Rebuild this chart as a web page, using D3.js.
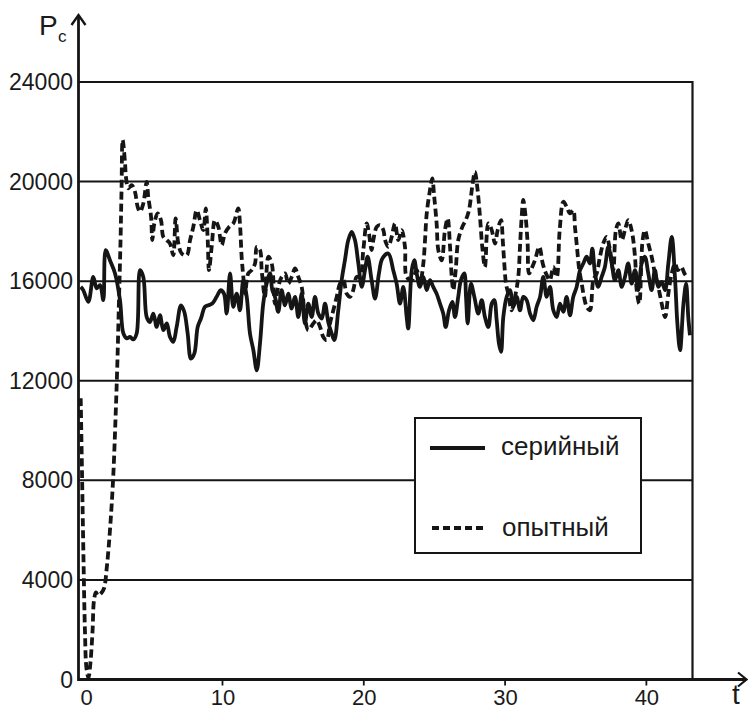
<!DOCTYPE html>
<html><head><meta charset="utf-8">
<script src="https://cdn.jsdelivr.net/npm/d3@7"></script>
<style>body{margin:0;background:#fff}svg{display:block}text{font-family:"Liberation Sans",Arial,sans-serif;fill:#1a1a1a}</style>
</head><body><div id="chart"></div>
<script>
const xTicks = [0, 10, 20, 30, 40];
const yTicks = [0, 4000, 8000, 12000, 16000, 20000, 24000];
const seriesNames = ["серийный", "опытный"];
const yLabel = "P";
const yLabelSub = "c";
const xLabel = "t";

const serialData = [[0,15770],[0.18,15640],[0.54,15170],[0.89,16170],[1.13,15710],[1.37,15840],[1.6,15240],[1.77,17250],[2.07,16840],[2.43,16310],[2.78,15240],[3.02,13900],[3.26,13700],[3.49,13760],[3.72,13660],[3.96,13900],[4.2,16440],[4.43,16170],[4.67,14560],[4.9,14360],[5.14,14700],[5.38,14160],[5.61,14630],[5.85,14030],[6.09,14300],[6.32,13760],[6.55,13560],[6.79,14160],[7.1,15030],[7.33,14770],[7.57,13900],[7.8,12890],[8.04,13090],[8.28,14160],[8.51,14500],[8.8,14970],[9.03,15030],[9.31,15100],[9.62,15370],[9.91,15640],[10.14,15500],[10.33,14700],[10.57,16310],[10.8,14970],[11.04,15500],[11.27,14830],[11.51,16040],[11.75,15370],[11.98,13900],[12.22,13230],[12.46,12420],[12.69,13500],[12.92,15100],[13.16,15900],[13.4,16310],[13.56,15640],[13.75,15370],[13.98,14770],[14.22,15640],[14.46,15030],[14.69,15500],[14.93,14900],[15.17,15370],[15.4,14560],[15.64,15500],[15.87,14300],[16.11,15100],[16.35,14560],[16.58,15370],[16.82,14700],[17.06,14500],[17.29,15100],[17.52,14360],[17.76,13900],[17.95,13630],[18.23,14830],[18.47,16040],[18.7,16840],[18.94,17650],[19.18,17980],[19.41,17650],[19.65,16710],[19.89,15770],[20.12,16440],[20.31,16980],[20.59,16040],[20.83,15300],[21.11,16310],[21.35,16910],[21.77,17110],[22.12,16440],[22.36,15900],[22.6,15100],[22.83,15770],[23.07,14560],[23.18,14100],[23.43,16440],[23.61,16840],[23.78,16310],[24.01,15770],[24.25,16170],[24.49,15640],[24.72,16040],[24.95,15770],[25.19,15500],[25.43,15100],[25.66,14700],[25.83,14160],[26.07,14830],[26.3,15170],[26.49,14560],[26.72,15370],[26.91,16040],[27.15,16310],[27.27,15370],[27.39,14300],[27.62,15900],[27.86,15370],[28.14,14700],[28.38,15240],[28.61,14560],[28.85,14160],[29.09,15100],[29.27,15240],[29.44,14430],[29.6,13500],[29.75,13160],[29.91,14560],[30.15,15370],[30.38,15640],[30.62,14970],[30.86,15370],[31.09,14830],[31.32,15370],[31.56,15240],[31.8,14700],[32.03,14430],[32.27,14970],[32.51,15370],[32.74,16170],[32.98,15370],[33.21,15770],[33.45,14830],[33.69,14560],[33.92,15100],[34.16,14770],[34.39,15370],[34.63,14630],[34.86,15370],[35.1,15770],[35.34,16440],[35.57,16710],[35.81,16980],[36.04,16710],[36.21,17310],[36.4,16310],[36.63,15770],[36.87,16170],[37.1,16570],[37.34,17380],[37.58,16710],[37.81,16040],[38.05,16440],[38.29,15770],[38.52,16170],[38.75,16710],[38.99,15900],[39.23,16440],[39.46,15640],[39.7,16710],[39.93,16980],[40.17,16310],[40.41,15640],[40.64,16440],[40.88,15770],[41.12,15970],[41.36,15640],[41.59,16710],[41.83,17780],[42.07,16040],[42.23,14300],[42.42,13230],[42.66,15100],[42.85,15900],[43.0,14560],[43.12,13830]];

const experimentalData = [[0,11300],[0.09,8400],[0.2,4780],[0.3,1970],[0.41,440],[0.55,80],[0.69,680],[0.84,1970],[0.94,3180],[1.08,3500],[1.22,3380],[1.44,3460],[1.65,3660],[1.86,4580],[2.07,5990],[2.29,8000],[2.46,10410],[2.6,12820],[2.71,15240],[2.82,17650],[2.89,19660],[2.97,21670],[3.14,20730],[3.2,20190],[3.37,19730],[3.61,19860],[3.84,19590],[4.03,18990],[4.2,18790],[4.43,19120],[4.67,19990],[4.78,19390],[4.98,18580],[5.07,17650],[5.21,18320],[5.45,18720],[5.68,18450],[5.85,17780],[6.09,17650],[6.32,17510],[6.55,17040],[6.72,18520],[6.91,17510],[7.15,17110],[7.5,17040],[7.74,17650],[7.97,18180],[8.21,18850],[8.44,18450],[8.68,18050],[8.85,18920],[8.99,17650],[9.08,16440],[9.27,17380],[9.5,18450],[9.74,18180],[9.98,17450],[10.21,17920],[10.5,18180],[10.8,18320],[11.15,18920],[11.27,18320],[11.39,16980],[11.51,16170],[11.63,15500],[11.86,16310],[12.1,16440],[12.34,16710],[12.46,17380],[12.69,17250],[12.81,16440],[13.04,15370],[13.28,16980],[13.52,16710],[13.75,15100],[13.98,15770],[14.22,16170],[14.46,16310],[14.69,15900],[14.93,16170],[15.17,16510],[15.4,16170],[15.64,15770],[15.87,14560],[16.11,14030],[16.46,14300],[16.7,14430],[16.94,14160],[17.17,13760],[17.41,13630],[17.64,14300],[17.88,14830],[18.12,15370],[18.35,15900],[18.59,16040],[18.82,15500],[19.06,15370],[19.29,15640],[19.53,16170],[19.77,16170],[20.0,17250],[20.24,18320],[20.4,17920],[20.59,17250],[20.71,17650],[20.95,18180],[21.18,18250],[21.42,18050],[21.54,17650],[21.77,17380],[22.01,17780],[22.24,18320],[22.48,17650],[22.72,18050],[22.95,17380],[23.07,16170],[23.43,16040],[23.78,16440],[24.01,15900],[24.25,16710],[24.37,17650],[24.49,18720],[24.72,19660],[24.88,20130],[25.02,19390],[25.19,18320],[25.31,17250],[25.55,16840],[25.78,18050],[25.97,18520],[26.14,17380],[26.26,16170],[26.37,15640],[26.54,16440],[26.72,17650],[27.01,18180],[27.25,18450],[27.48,18850],[27.71,19790],[27.9,20390],[28.09,19660],[28.26,18580],[28.42,17380],[28.61,16570],[28.85,18320],[29.09,18050],[29.32,17510],[29.51,18050],[29.75,18450],[29.87,17650],[29.98,16710],[30.1,15900],[30.26,15500],[30.5,14830],[30.74,15370],[30.97,16170],[31.09,17380],[31.21,18580],[31.32,19260],[31.49,18580],[31.63,17510],[31.73,16310],[31.96,16570],[32.15,16840],[32.46,17380],[32.7,16710],[32.93,16310],[33.2,16040],[33.45,16570],[33.69,16170],[33.9,18050],[34.16,19190],[34.39,18990],[34.63,18720],[34.86,18850],[34.98,18180],[35.1,17510],[35.29,16440],[35.46,15900],[35.62,15370],[35.81,14970],[36.04,14830],[36.28,16040],[36.52,16310],[36.75,16980],[36.98,17510],[37.22,17780],[37.46,17250],[37.69,16440],[37.88,18050],[38.05,18320],[38.29,17650],[38.52,18050],[38.75,18450],[38.99,18050],[39.23,16980],[39.35,15640],[39.53,15100],[39.77,17650],[39.93,18050],[40.17,17510],[40.41,16980],[40.64,16310],[40.88,15770],[41.12,15100],[41.36,14560],[41.59,15500],[41.83,16310],[42.07,16710],[42.26,16440],[42.5,16570],[42.73,16310],[42.9,16170]];

const W = 748, H = 711;
const svg = d3.select("#chart").append("svg").attr("width", W).attr("height", H);
const x = d3.scaleLinear().domain([0, 43.3]).range([80.7, 692.5]);
const y = d3.scaleLinear().domain([0, 24000]).range([679.5, 82]);
const ink = "#151515";

// gridlines
svg.append("g").selectAll("line").data(yTicks.filter(d => d > 0)).join("line")
  .attr("x1", x(0) - 2).attr("x2", x.range()[1]).attr("y1", d => y(d)).attr("y2", d => y(d))
  .attr("stroke", ink).attr("stroke-width", 2);
// right border
svg.append("line").attr("x1", x.range()[1]).attr("x2", x.range()[1])
  .attr("y1", y(24000) - 1).attr("y2", y(0)).attr("stroke", ink).attr("stroke-width", 2.2);

// y tick labels
svg.append("g").selectAll("text").data(yTicks).join("text")
  .attr("x", 73).attr("y", d => y(d) + 8).attr("text-anchor", "end")
  .attr("font-size", 23).text(d => d);

// x axis with ticks below
const xAxis = d3.axisBottom(x).tickValues(xTicks.filter(d => d > 0)).tickSize(6).tickFormat("");
const gx = svg.append("g").attr("transform", `translate(0,${y(0)})`).call(xAxis);
gx.select(".domain").remove();
gx.selectAll(".tick line").attr("stroke", ink).attr("stroke-width", 1.8);
svg.append("g").selectAll("text").data(xTicks).join("text")
  .attr("x", d => d === 0 ? x(d) + 6 : x(d) + 1).attr("y", 705).attr("text-anchor", "middle")
  .attr("font-size", 22).text(d => d);

// axes lines with arrows
svg.append("line").attr("x1", 78.5).attr("x2", 746).attr("y1", y(0)).attr("y2", y(0))
  .attr("stroke", ink).attr("stroke-width", 2.8);
svg.append("path").attr("d", `M738,${y(0)-7}L746.5,${y(0)}L738,${y(0)+7}`)
  .attr("fill", "none").attr("stroke", ink).attr("stroke-width", 2.2);
svg.append("line").attr("x1", 78.5).attr("x2", 78.5).attr("y1", y(0) + 1.5).attr("y2", 15.5)
  .attr("stroke", ink).attr("stroke-width", 2.8);
svg.append("path").attr("d", `M71.5,25L78.5,15L85.5,25`)
  .attr("fill", "none").attr("stroke", ink).attr("stroke-width", 2.4);

// axis titles
svg.append("text").attr("x", 39).attr("y", 35).attr("font-size", 28).text(yLabel);
svg.append("text").attr("x", 58).attr("y", 42).attr("font-size", 17).text(yLabelSub);
svg.append("text").attr("x", 732).attr("y", 704).attr("font-size", 28).text(xLabel);

// data lines
const line = d3.line().x(d => x(d[0])).y(d => y(d[1])).curve(d3.curveCatmullRom.alpha(0.5));
svg.append("path").datum(serialData).attr("d", line)
  .attr("fill", "none").attr("stroke", ink).attr("stroke-width", 3.8).attr("stroke-linejoin", "round");
svg.append("path").datum(experimentalData).attr("d", line)
  .attr("fill", "none").attr("stroke", ink).attr("stroke-width", 3.8).attr("stroke-dasharray", "8,4");

// legend
const lg = svg.append("g");
lg.append("rect").attr("x", 415).attr("y", 418).attr("width", 226).attr("height", 135)
  .attr("fill", "#fff").attr("stroke", ink).attr("stroke-width", 2);
lg.append("line").attr("x1", 430).attr("x2", 485).attr("y1", 448).attr("y2", 448)
  .attr("stroke", ink).attr("stroke-width", 3.8);
lg.append("line").attr("x1", 432).attr("x2", 487).attr("y1", 528).attr("y2", 528)
  .attr("stroke", ink).attr("stroke-width", 3.8).attr("stroke-dasharray", "7,4");
lg.append("text").attr("x", 501).attr("y", 455).attr("font-size", 26).text(seriesNames[0]);
lg.append("text").attr("x", 502).attr("y", 536).attr("font-size", 26).text(seriesNames[1]);
</script></body></html>
